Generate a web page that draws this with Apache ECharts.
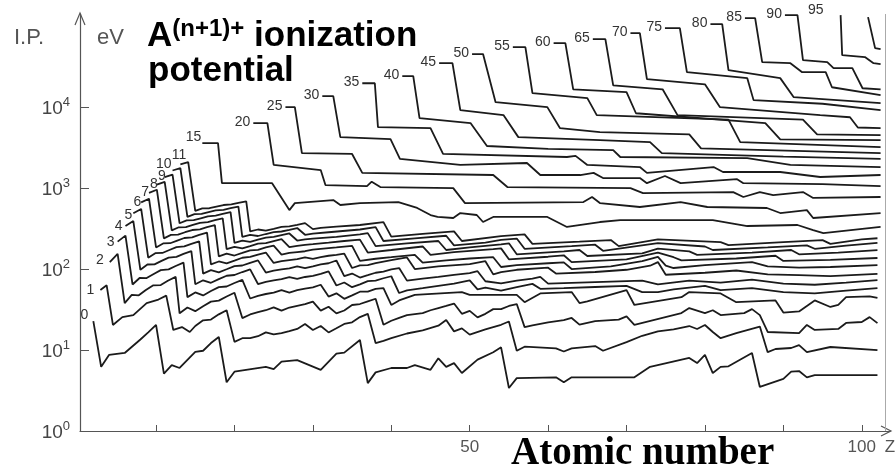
<!DOCTYPE html>
<html>
<head>
<meta charset="utf-8">
<title>Ionization potentials vs atomic number</title>
<script src="https://cdn.jsdelivr.net/npm/echarts/dist/echarts.min.js"></script>
<style>
  html, body { margin: 0; padding: 0; background: #fff; }
  #chart { width: 895px; height: 469px; }
</style>
</head>
<body>
<div id="chart"></div>
<script>
// axis ticks
const xTicks = [10, 20, 30, 40, 50, 60, 70, 80, 90, 100];
const xTickLabels = [50, 100];
const yTicks = [1, 10, 100, 1000, 10000];

// curve labels (charge n of the ion A^n+ being ionized)
const chargeLabels = ['0','1','2','3','4','5','6','7','8','9','10','11',
  '15','20','25','30','35','40','45','50','55','60','65','70','75','80','85','90','95',''];

// [Z, ionization potential in eV]
const ip0 = [[2,22.8],[3,6.2],[4,8.7],[6,9.2],[8,13.5],[9,16.5],[10,20.4],[11,5.1],[12,6.5],[13,6.0],[15,9.5],[16,9.8],[17,12.2],[18,14.5],[19,4.0],[20,5.4],[24,6.2],[25,5.8],[26,7.2],[28,7.5],[31,5.7],[33,9.0],[34,9.3],[36,13.3],[37,3.9],[38,5.3],[40,6.0],[42,6.0],[43,6.5],[45,5.7],[46,7.9],[47,6.2],[48,6.9],[49,5.2],[51,7.6],[53,9.4],[54,10.8],[55,3.4],[56,4.5],[61,4.6],[62,4.0],[63,4.6],[71,4.6],[73,6.2],[78,8.0],[79,6.9],[80,8.7],[81,5.2],[82,6.2],[83,6.3],[86,9.2],[87,3.5],[90,4.4],[91,5.4],[92,5.5],[93,4.6],[94,4.9],[102,4.9]];
const ip1 = [[2.9,55],[3.7,63],[4.5,20.4],[5.7,25.5],[7.1,27],[8.8,38],[10.3,42],[11.3,47],[12.2,17.7],[13.3,19.2],[14.3,16.7],[15,19.8],[16,23.3],[17,23.8],[18,27.6],[19,31],[20,12.6],[21,14],[22,14],[23,14.8],[24,16.5],[25,15.6],[26,16.2],[27,17.1],[28,18.2],[29,21],[30,17.7],[31,19.8],[32,16.5],[33,18.6],[34,21],[35,22],[36,25.5],[37,28],[38,12.2],[39,13],[40,14],[42,16],[44,17.5],[46,20],[47,23.5],[48,17],[49,18.5],[50,15.5],[52,18],[54,20.5],[55,22.5],[56,9.8],[57,11],[61,10.5],[62,9.6],[63,10.5],[66,11.2],[67,9.8],[70,12.5],[72,15],[74,17],[76,18],[78,19.8],[79,18.2],[80,20.4],[81,16.7],[82,14],[84,16.2],[87,19.5],[88,9.4],[89,10.3],[91,10.6],[92,11.5],[93,9.4],[96,10.9],[102,10]];
const ip2 = [[4.1,122],[5.1,154],[6.0,38],[6.9,48],[7.8,47.4],[8.7,55],[9.6,62.7],[10.6,63.5],[11.5,71.6],[12.5,80],[13,28.4],[14,33.5],[15,30.2],[16,34.8],[17,39.6],[18,40.7],[19,45.8],[20,51],[21,24.8],[22,27.5],[23,29.3],[24,31],[25,33.7],[26,30.6],[27,33.5],[28,35.2],[29,36.8],[30,39.7],[31,30.7],[32,34.2],[33,28.4],[34,30.8],[35,36],[36,37],[37,40],[38,43],[39,20.5],[40,23],[41,25],[42,27],[44,28.5],[45,31],[46,33],[47,35],[48,37.5],[49,28],[50,30.5],[51,25.3],[52,28],[53,32],[54,32],[55,35],[56,37],[57,19.2],[58,20.2],[60,22],[62,23.4],[63,24.9],[64,20.6],[66,22.8],[69,23.7],[70,26],[71,20.4],[77,28.6],[78,33],[80,28.6],[81,31],[82,27],[85,28.6],[86,32],[87,27],[88,16.7],[92,16.2],[93,20.4],[94,17.7],[97,18.2],[98,21.6],[100,22.2],[101,25.5],[102,21.5]];
const ip3 = [[5.1,218],[6.1,259],[7.0,64.5],[7.9,77.5],[8.8,77.4],[9.7,87],[10.6,97],[11.6,99],[12.5,109],[13.5,120],[14,45],[15,51.4],[16,47.2],[17,53.5],[18,59.8],[19,60.9],[20,67.3],[21,73.5],[22,43.3],[23,46.7],[24,49.2],[25,51.2],[26,54.8],[27,51.3],[28,54.9],[29,57.4],[30,59.4],[31,64],[32,45.7],[33,50.1],[34,42.9],[35,47.3],[36,52.5],[37,52.6],[38,57],[39,58],[40,36],[41,41],[43,48],[49,52],[50,48],[56,48],[57,39],[59,50],[63,52],[64,38],[65,40],[70,55],[71,36],[77,45],[78,52],[82,50],[84,39],[89,41],[90,29],[92,30],[94,41],[96,34],[97,36],[98,45],[101,46],[102,44]];
const ip4 = [[6.1,340],[7.1,392],[8.0,97.9],[8.9,113.9],[9.8,114.2],[10.7,126.2],[11.6,138.4],[12.6,141.3],[13.5,153.8],[14.5,166.8],[15,65],[16,72.6],[17,67.7],[18,75],[19,82.7],[20,84.5],[21,91.9],[22,99.3],[23,65.3],[24,69.5],[25,72.4],[26,75],[27,79.5],[28,75.5],[29,79.8],[30,82.6],[31,87],[32,93.5],[33,62.6],[34,68.3],[35,59.7],[36,64.7],[37,71],[38,72],[39,77],[40,81.5],[41,50.6],[42,54.5],[44,58],[46,62],[48,66],[50,72.3],[51,56],[52,58.8],[54,54],[56,60],[58,65.6],[59,57],[62,58],[66,60],[70,62],[72,52],[74,52],[76,56],[80,62],[82,55],[86,58],[90,52],[94,50],[98,54],[102,58]];
const ip5 = [[7.1,490],[8.1,552],[9.0,138],[9.9,157],[10.8,158],[11.7,172],[12.6,187],[13.6,190.5],[14.5,205],[15.5,220],[16,88],[17,97],[18,91],[19,99.4],[20,108.8],[21,110.7],[22,119.5],[23,128],[24,90.6],[25,95.6],[26,99],[27,102],[28,108],[29,103],[30,108],[31,114],[32,118],[33,127.6],[34,81.7],[35,88],[36,78.5],[37,84],[38,90],[39,93],[40,99],[41,103],[42,72],[44,76],[46,80],[48,85],[50,89],[51,94],[52,70.7],[54,66.7],[56,72],[58,76],[59,80],[60,66],[64,68],[68,70],[72,72],[74,64.8],[78,72],[82,68],[86,74],[90,66],[94,64],[98,68],[102,73]];
const ip6 = [[8.1,667],[9.1,739],[10.0,185],[10.9,207],[11.8,208.5],[12.7,225],[13.6,242],[14.6,246.5],[15.5,264],[16.5,281],[17,114],[18,124],[19,117.6],[20,127],[21,138],[22,141],[23,151],[24,160],[25,119],[26,125],[27,129],[28,133],[29,139],[30,134],[31,140],[32,146],[33,150],[34,155],[35,103],[36,111],[37,112],[38,118],[40,129],[42,139],[43,100],[46,108],[50,115],[52,125],[53,86],[54,91.6],[56,98],[60,104],[61,88],[66,92],[70,98],[73,110],[74,122],[75,85],[80,90],[84,96],[88,86],[92,84],[96,82],[102,87]];
const ip7 = [[9.1,871],[10.1,954],[11.0,239],[11.9,264],[12.8,266],[13.7,285],[14.6,303.5],[15.6,310],[16.5,329],[17.5,348],[18,143.5],[19,155],[20,147],[21,158],[22,170],[23,173],[24,185],[25,194.5],[26,151],[27,158],[28,162],[29,166],[30,174],[31,178],[33,185],[35,193],[36,126],[38,134],[40,140],[43,150],[44,120],[47,128],[50,135],[53,140],[54,106],[56,112],[60,118],[62,121],[63,100],[68,108],[72,125],[74,141],[75,110],[76,103],[80,112],[86,122],[88,108],[92,104],[96,106],[102,112]];
const ip8 = [[10.1,1103],[11.1,1196],[12.0,300],[12.9,328],[13.8,330],[14.7,351],[15.6,372],[16.6,380],[17.5,401],[18.5,422],[19,176],[20,188.5],[21,180],[22,192],[23,206],[24,209.5],[25,222],[26,234],[27,186],[28,193],[29,199],[30,203],[32,212],[34,222],[36,231],[37,160],[40,172],[44,190],[45,150],[48,162],[53,176],[54,180],[55,132],[60,142],[62,148],[63,122],[70,132],[74,160],[76,140],[77,128],[84,135],[89,146],[90,126],[96,130],[102,137]];
const ip9 = [[11.1,1362],[12.1,1465],[13.0,367.5],[13.9,399],[14.8,401],[15.7,424],[16.6,447.5],[17.6,456],[18.5,480],[19.5,504],[20,211],[21,225],[22,216],[23,230.5],[24,244.5],[25,249],[26,262],[27,275],[28,225],[29,232],[30,238],[33,250],[36,268],[37,278],[38,192],[42,208],[46,222],[47,172],[50,185],[54,202],[55,208],[56,152],[62,165],[64,172],[65,145],[72,156],[74,179],[78,165],[79,150],[86,160],[91,172],[92,152],[97,160],[102,171]];
const ip10 = [[12.1,1649],[13.1,1762],[14.0,442],[14.9,476],[15.8,479],[16.7,505],[17.6,530],[18.6,539],[19.5,565],[20.5,592],[21,250],[22,265],[23,256],[24,271],[25,286],[26,291],[27,305],[28,321],[29,265],[30,274],[32,285],[36,308],[38,330],[39,222],[43,240],[47,258],[48,196],[52,212],[54,229],[56,238],[57,178],[63,192],[66,200],[67,168],[74,209],[80,190],[81,172],[88,185],[93,196],[94,178],[98,195],[102,210]];
const ip11 = [[13.1,1963],[14.1,2086],[15.0,523],[15.9,561],[16.8,564],[17.7,591],[18.6,618],[19.6,629],[20.5,657],[21.5,687],[22,291.5],[23,308],[24,298],[25,314],[26,331],[27,336],[28,351],[29,369],[30,311],[31,322],[33,335],[36,350],[39,380],[40,252],[44,272],[48,292],[49,222],[54,255],[57,268],[58,205],[64,218],[68,228],[69,192],[74,232],[82,215],[83,198],[90,215],[95,228],[96,205],[100,232],[102,240]];
const ip15 = [[15.9,3600],[17.9,3600],[18.4,1150],[24.8,1150],[27,535],[27.7,653],[32.6,711],[33.5,618],[36,653],[40.9,672],[43.3,568],[45,465],[45.9,440],[47.9,427],[48.8,492],[50.9,465],[51.7,381],[53,440],[59.9,440],[62.4,331],[66.6,381],[69.2,403],[81,403],[85.4,340],[91.8,350],[93.8,303],[95.1,278],[102.4,331]];
const ip20 = [[22.4,6350],[24.2,6350],[25,1930],[31,1670],[31.6,1090],[36.9,1060],[37.5,1200],[38.6,1030],[47.9,1000],[49.4,653],[64.5,672],[65.6,776],[66.6,653],[71.7,584],[76.9,672],[80.3,584],[87.9,568],[89.6,492],[93,535],[93.8,427],[102.4,492]];
const ip25 = [[26.5,10000],[27.7,10000],[28.6,2710],[35,2640],[36.3,1540],[53,1450],[54.8,1030],[70.5,1000],[72.1,868],[83.6,893],[84.9,776],[87,893],[88.7,820],[92.5,893],[93.8,755],[102.4,776]];
const ip30 = [[31.2,13700],[32.6,13700],[33.5,4260],[39.9,4020],[41.1,2290],[48.8,1930],[57.3,2040],[59,1450],[64.1,1450],[65.8,1540],[67,1330],[71.7,1330],[72.6,1150],[74.9,1410],[76.9,1150],[84.1,1290],[84.9,1150],[95,1120],[102.4,1060]];
const ip35 = [[36.3,19700],[37.9,19700],[38.3,5670],[45,5510],[46.6,2640],[62.4,2420],[63.5,2500],[65,1930],[71.7,1820],[72.6,1540],[81.1,1820],[82.3,1580],[89.6,1580],[94.7,1370],[102.4,1450]];
const ip40 = [[41.4,24100],[42.8,24100],[43.6,7320],[50.1,6350],[52.2,3310],[60,3050],[68.3,2950],[69.2,2420],[85.4,2350],[90.9,1930],[102.4,1820]];
const ip45 = [[46.1,34900],[47.8,34900],[48.8,9180],[54.3,7970],[56.2,4260],[66.6,3920],[73,3700],[74.5,2700],[90,2450],[102.4,2290]];
const ip50 = [[50.3,45200],[51.7,45200],[53.3,11500],[59.9,10000],[61.5,5510],[66.6,4920],[78,4600],[79.5,3100],[102.4,2710]];
const ip55 = [[55.5,55000],[57.1,55000],[58,14900],[65,12900],[66.2,7970],[83,7000],[84.5,3700],[102.4,3210]];
const ip60 = [[60.7,61600],[62.2,61600],[63.2,16600],[70,15300],[71.2,8400],[87.7,6350],[89.6,4000],[102.4,3920]];
const ip65 = [[65.7,69200],[67.3,69200],[68.3,18600],[74.6,16600],[76.5,7970],[92.5,7000],[94.3,4600],[102.4,4510]];
const ip70 = [[70.5,82000],[71.7,82000],[72.6,22200],[80,19100],[81.9,10000],[94.7,7970],[98.5,7500],[99.5,5600],[102.4,5510]];
const ip75 = [[74.9,94500],[76.8,94500],[77.7,27000],[85.4,22800],[86.2,12200],[95,11000],[102.4,9200]];
const ip80 = [[80.7,105900],[82.2,105900],[83,28600],[89.6,22800],[91.3,13300],[102.4,11200]];
const ip85 = [[85.1,125700],[86.4,125700],[87.3,35900],[90.9,34900],[92.4,27000],[95.4,27000],[96.2,17600],[102.4,14100]];
const ip90 = [[90.2,136800],[91.8,136800],[92.5,38000],[95.6,35900],[96.4,30300],[98.8,30300],[100.1,17100],[102.4,16600]];
const ip95 = [[97.3,136800],[97.5,43900],[100.4,41500],[101.5,34900],[102.4,33900]];
const ip100 = [[100.8,129300],[101.7,53500],[102.4,52000]];

const curves = [ip0, ip1, ip2, ip3, ip4, ip5, ip6, ip7, ip8, ip9, ip10, ip11,
  ip15, ip20, ip25, ip30, ip35, ip40, ip45, ip50, ip55, ip60, ip65, ip70, ip75, ip80, ip85, ip90, ip95, ip100];

// small nudges for the curve labels, in px
const labelNudge = [[-2,-6],[-3,0],[-3,-2],[0,0],[0,0],[2,2],[3,0],[3,-1],[4,0],[4,-1],[2,-6],[9,-9],
  [2,-6],[0,-1],[0,-1],[0,-1],[0,-1],[0,-1],[0,-1],[0,-1],[0,-1],[0,-1],[0,-1],[0,-1],[0,-1],[0,-1],[0,-1],[0,-1],[-14,-5],[0,0]];

const chart = echarts.init(document.getElementById('chart'));

const series = curves.map((d, i) => ({
  type: 'line',
  data: d.map((p, k) => k === 0 ? {
    value: p,
    symbol: 'circle',
    symbolSize: 0,
    label: {
      show: chargeLabels[i] !== '',
      formatter: chargeLabels[i],
      position: 'left',
      distance: 3,
      offset: labelNudge[i],
      color: '#333',
      fontSize: 14,
      fontFamily: 'Liberation Sans'
    }
  } : p),
  symbol: 'none',
  clip: false,
  silent: true,
  lineStyle: { color: '#1b1b1b', width: 1.8 },
  markLine: i === 0 ? {
    silent: true,
    symbol: ['none', 'none'],
    label: { show: false },
    lineStyle: { color: '#aaa', width: 1, type: 'solid' },
    data: [{ xAxis: 103 }]
  } : undefined
}));

const option = {
  animation: false,
  backgroundColor: '#fff',
  grid: { left: 80, right: 5, top: 14, bottom: 38, outerBoundsMode: 'none' },
  xAxis: {
    type: 'value',
    min: 0.3,
    max: 103.6,
    axisLine: { show: true, lineStyle: { color: '#555', width: 1.2 } },
    axisTick: { show: true, inside: true, length: 6, customValues: xTicks, lineStyle: { color: '#555' } },
    splitLine: { show: false },
    axisLabel: {
      show: true,
      customValues: xTickLabels,
      margin: 8,
      formatter: function (v) {
        if (v === 100) return '{pad|}{n|100}{z|Z}';
        return '{n|' + v + '}';
      },
      rich: {
        n: { fontSize: 17, color: '#555', fontFamily: 'Liberation Sans' },
        pad: { width: 22 },
        z: { width: 16, fontSize: 17, color: '#555', fontFamily: 'Liberation Sans', padding: [0, 0, 0, 6] }
      }
    }
  },
  yAxis: {
    type: 'log',
    logBase: 10,
    min: 1,
    max: 141254,
    axisLine: { show: true, lineStyle: { color: '#555', width: 1.2 } },
    axisTick: { show: true, inside: true, length: 9, customValues: yTicks, lineStyle: { color: '#555' } },
    splitLine: { show: false },
    minorTick: { show: false },
    axisLabel: {
      show: true,
      customValues: yTicks,
      margin: 10,
      formatter: function (v) {
        const e = Math.round(Math.log10(v));
        return '{b|10}{s|' + e + '}';
      },
      rich: {
        b: { fontSize: 19, color: '#444', fontFamily: 'Liberation Sans', verticalAlign: 'bottom' },
        s: { fontSize: 13, color: '#444', fontFamily: 'Liberation Sans', verticalAlign: 'bottom', padding: [0, 0, 9, 0] }
      }
    }
  },
  graphic: [
    { type: 'polyline', silent: true, shape: { points: [[75, 25], [80, 13], [85, 25]] }, style: { stroke: '#555', lineWidth: 1.2, fill: 'none' } },
    { type: 'polyline', silent: true, shape: { points: [[881, 426], [891, 431], [881, 436]] }, style: { stroke: '#555', lineWidth: 1.2, fill: 'none' } },
    { type: 'text', silent: true, x: 14, y: 27, style: { text: 'I.P.', fontSize: 22, fill: '#555', fontFamily: 'Liberation Sans' } },
    { type: 'text', silent: true, x: 97, y: 27, style: { text: 'eV', fontSize: 22, fill: '#555', fontFamily: 'Liberation Sans' } },
    {
      type: 'text', silent: true, x: 147, y: 17,
      style: {
        text: '{a|A}{s|(n+1)+}{a| ionization}',
        rich: {
          a: { fontSize: 35, fontWeight: 'bold', fontFamily: 'Liberation Sans', fill: '#000', verticalAlign: 'bottom' },
          s: { fontSize: 24, fontWeight: 'bold', fontFamily: 'Liberation Sans', fill: '#000', verticalAlign: 'bottom', padding: [0, 0, 13, 0] }
        }
      }
    },
    { type: 'text', silent: true, x: 148, y: 54, style: { text: 'potential', fontSize: 35, fontWeight: 'bold', fontFamily: 'Liberation Sans', fill: '#000' } },
    { type: 'text', silent: true, x: 511, y: 434, style: { text: 'Atomic number', fontSize: 39, fontWeight: 'bold', fontFamily: 'Liberation Serif', fill: '#000' } }
  ],
  series: series
};

chart.setOption(option);
</script>
</body>
</html>
